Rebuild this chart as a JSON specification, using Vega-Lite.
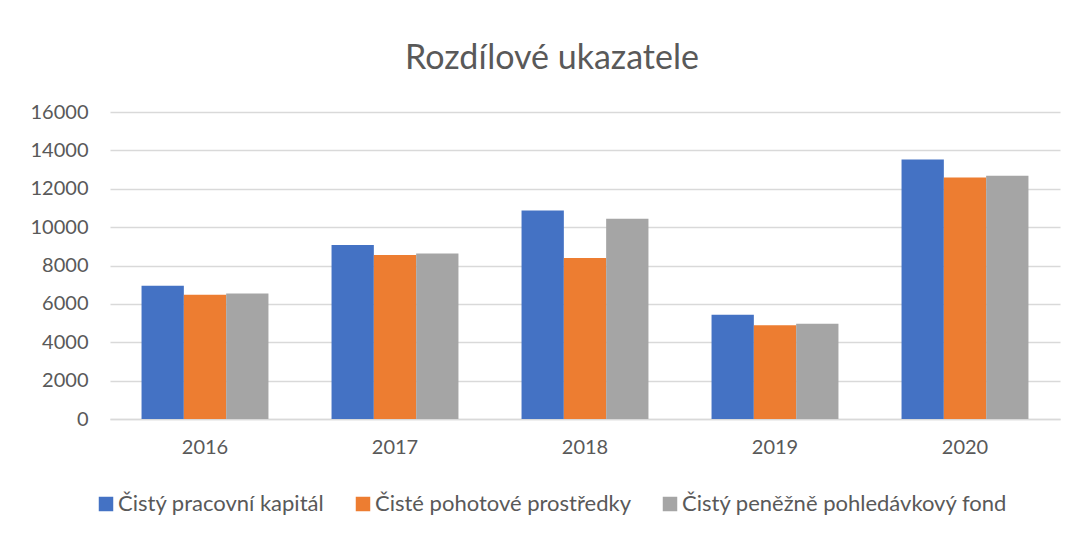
{
  "$schema": "https://vega.github.io/schema/vega-lite/v6.json",
  "autosize": {"type": "none"},
  "padding": {"left": 110, "top": 112, "right": 19, "bottom": 114},
  "width": 950,
  "height": 307,
  "background": "white",
  "title": {
    "text": "Rozdílové ukazatele",
    "font": "Lato",
    "fontSize": 34,
    "fontWeight": "normal",
    "color": "#595959",
    "anchor": "middle",
    "dx": -33,
    "offset": 26
  },
  "data": {
    "values": [
      {"rok": "2016", "ukazatel": "Čistý pracovní kapitál", "hodnota": 6940},
      {"rok": "2016", "ukazatel": "Čisté pohotové prostředky", "hodnota": 6470},
      {"rok": "2016", "ukazatel": "Čistý peněžně pohledávkový fond", "hodnota": 6540},
      {"rok": "2017", "ukazatel": "Čistý pracovní kapitál", "hodnota": 9070},
      {"rok": "2017", "ukazatel": "Čisté pohotové prostředky", "hodnota": 8550},
      {"rok": "2017", "ukazatel": "Čistý peněžně pohledávkový fond", "hodnota": 8630},
      {"rok": "2018", "ukazatel": "Čistý pracovní kapitál", "hodnota": 10870},
      {"rok": "2018", "ukazatel": "Čisté pohotové prostředky", "hodnota": 8390},
      {"rok": "2018", "ukazatel": "Čistý peněžně pohledávkový fond", "hodnota": 10430},
      {"rok": "2019", "ukazatel": "Čistý pracovní kapitál", "hodnota": 5430},
      {"rok": "2019", "ukazatel": "Čisté pohotové prostředky", "hodnota": 4890},
      {"rok": "2019", "ukazatel": "Čistý peněžně pohledávkový fond", "hodnota": 4960},
      {"rok": "2020", "ukazatel": "Čistý pracovní kapitál", "hodnota": 13530},
      {"rok": "2020", "ukazatel": "Čisté pohotové prostředky", "hodnota": 12590},
      {"rok": "2020", "ukazatel": "Čistý peněžně pohledávkový fond", "hodnota": 12680}
    ]
  },
  "mark": {"type": "bar"},
  "encoding": {
    "x": {
      "field": "rok",
      "type": "nominal",
      "scale": {"paddingInner": 0.332, "paddingOuter": 0.166},
      "axis": {
        "title": null,
        "labelAngle": 0,
        "labelFont": "Lato",
        "labelFontSize": 20,
        "labelColor": "#595959",
        "labelPadding": 18,
        "ticks": false,
        "domainColor": "#d9d9d9",
        "domainWidth": 1.5
      }
    },
    "xOffset": {
      "field": "ukazatel",
      "type": "nominal",
      "sort": ["Čistý pracovní kapitál", "Čisté pohotové prostředky", "Čistý peněžně pohledávkový fond"],
      "scale": {"paddingInner": 0, "paddingOuter": 0}
    },
    "y": {
      "field": "hodnota",
      "type": "quantitative",
      "scale": {"domain": [0, 16000], "nice": false},
      "axis": {
        "title": null,
        "values": [0, 2000, 4000, 6000, 8000, 10000, 12000, 14000, 16000],
        "format": "d",
        "labelFont": "Lato",
        "labelFontSize": 20,
        "labelColor": "#595959",
        "labelPadding": 22,
        "ticks": false,
        "domain": false,
        "gridColor": "#d9d9d9",
        "gridWidth": 1.5
      }
    },
    "color": {
      "field": "ukazatel",
      "type": "nominal",
      "sort": ["Čistý pracovní kapitál", "Čisté pohotové prostředky", "Čistý peněžně pohledávkový fond"],
      "scale": {
        "domain": ["Čistý pracovní kapitál", "Čisté pohotové prostředky", "Čistý peněžně pohledávkový fond"],
        "range": ["#4472C4", "#ED7D31", "#A5A5A5"]
      },
      "legend": {
        "title": null,
        "orient": "none",
        "direction": "horizontal",
        "legendX": -15,
        "legendY": 381,
        "symbolType": "square",
        "symbolSize": 210,
        "symbolStrokeWidth": 0,
        "labelFont": "Lato",
        "labelFontSize": 22,
        "labelColor": "#595959",
        "labelOffset": 1,
        "columnPadding": 27,
        "labelLimit": 500
      }
    }
  },
  "config": {
    "view": {"stroke": null}
  }
}
